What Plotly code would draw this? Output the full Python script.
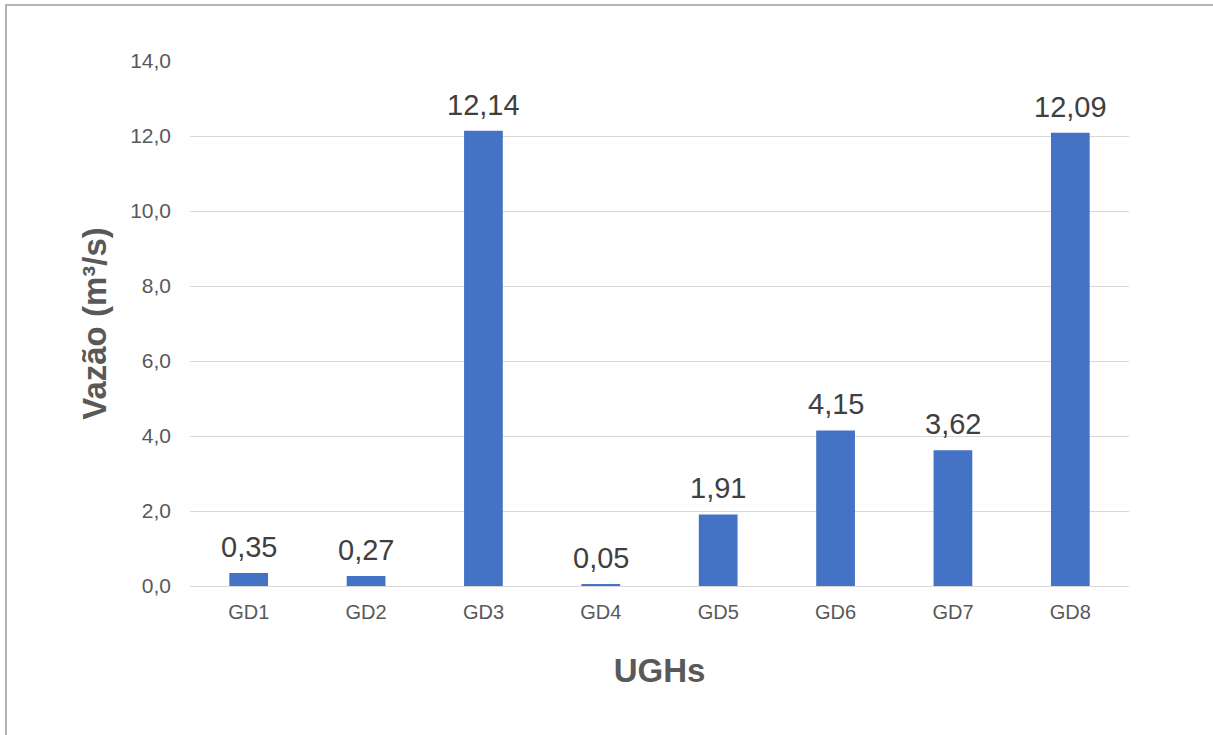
import plotly.graph_objects as go

# Flow per generating unit
units = ["GD1", "GD2", "GD3", "GD4", "GD5", "GD6", "GD7", "GD8"]
flows = [0.35, 0.27, 12.14, 0.05, 1.91, 4.15, 3.62, 12.09]
y_ticks = [0, 2, 4, 6, 8, 10, 12, 14]

W, H = 1213, 735
L, R, T, B = 190, 84, 61, 149
plot_w = W - L - R
plot_h = H - T - B

font_family = "Liberation Sans, Arial, Helvetica, sans-serif"

fig = go.Figure(
    go.Bar(
        x=units,
        y=flows,
        marker=dict(color="#4472c4", line=dict(width=0)),
        width=0.33,
    )
)

# value labels above each bar
for u, v in zip(units, flows):
    fig.add_annotation(
        x=u, y=v, text=f"{v:.2f}".replace(".", ","),
        showarrow=False, yanchor="bottom", yshift=8,
        font=dict(family=font_family, size=29, color="#404040"),
    )

# outer frame of the chart area
def px_x(p):
    return (p - L) / plot_w

def px_y(p):
    return (H - B - p) / plot_h

fig.add_shape(
    type="rect", xref="paper", yref="paper",
    x0=px_x(6), x1=px_x(1240), y0=px_y(5), y1=px_y(760),
    line=dict(color="#b4b4b4", width=2), layer="below",
)

fig.update_layout(
    width=W, height=H,
    margin=dict(l=L, r=R, t=T, b=B, pad=0),
    paper_bgcolor="white", plot_bgcolor="white",
    separators=",.",
    showlegend=False,
    font=dict(family=font_family, color="#595959"),
    xaxis=dict(
        title=dict(text="<b>UGHs</b>", font=dict(size=33, color="#595959"), standoff=36),
        tickfont=dict(size=20, color="#595959"),
        showgrid=False, showline=False, ticks="",
        ticklabelstandoff=12,
    ),
    yaxis=dict(
        title=dict(text="<b>Vazão (m³/s)</b>", font=dict(size=33, color="#595959"), standoff=13),
        range=[0, 14], tickvals=y_ticks, tickformat=".1f",
        tickfont=dict(size=21, color="#595959"),
        showgrid=True, gridcolor="#d9d9d9", gridwidth=1,
        zeroline=True, zerolinecolor="#d9d9d9", zerolinewidth=1,
        showline=False, ticks="", ticklabelstandoff=18,
    ),
)

fig.write_html("out.html")
